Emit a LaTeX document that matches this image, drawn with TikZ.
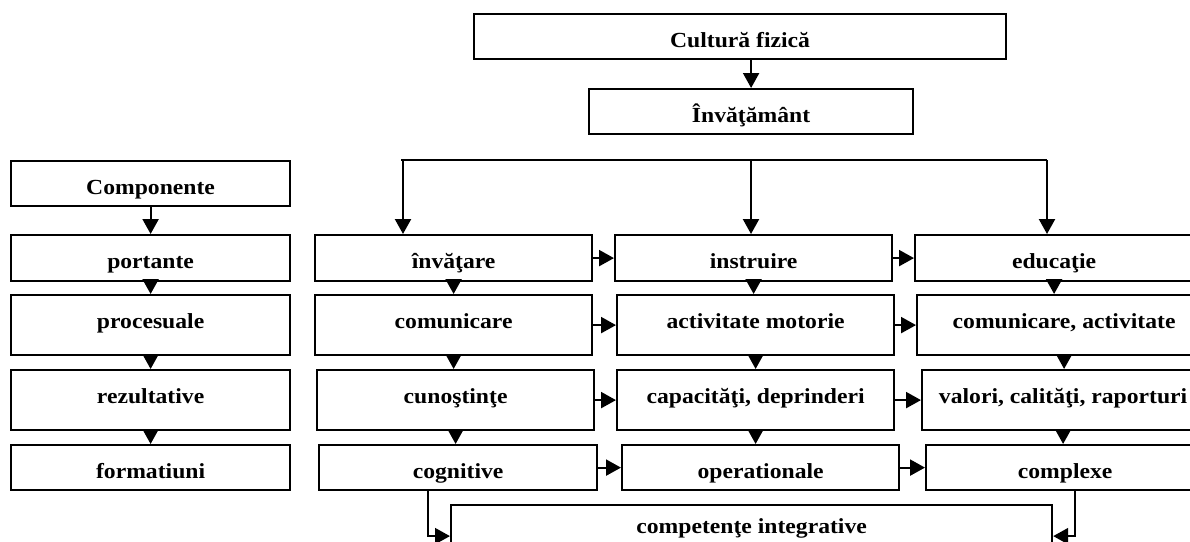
\documentclass[tikz,border=0pt]{standalone}
\usepackage{fontspec}
\setmainfont{Liberation Serif}[FakeStretch=1.1]
\usetikzlibrary{arrows.meta}
\tikzset{
  box/.style={draw, line width=2.2pt, anchor=north west, inner xsep=0pt, inner ysep=0pt,
    text height=33pt, text depth=12pt, font=\fontsize{21.5}{26}\selectfont\bfseries},
  tall/.style={text depth=27pt},
  arr/.style={line width=2.2pt, -{Triangle[width=16pt,length=15pt]}}
}
\begin{document}
\begin{tikzpicture}[x=1pt,y=-1pt]
\useasboundingbox (0,0) rectangle (1190,541);

\node[box, minimum width=532pt] (cf) at (473,13) {Cultură fizică};
\node[box, minimum width=324pt] (inv) at (588,88) {Învăţământ};
\draw[arr] (inv.north |- cf.south) -- (inv.north);

% left column
\node[box, minimum width=279pt] (comp) at (10,160) {Componente};
\node[box, minimum width=279pt, text depth=13pt] (l1) at (10,234) {portante};
\node[box, tall, minimum width=279pt] (l2) at (10,294) {procesuale};
\node[box, tall, minimum width=279pt] (l3) at (10,369) {rezultative};
\node[box, minimum width=279pt] (l4) at (10,444) {formatiuni};

% three columns
\node[box, minimum width=277pt, text depth=13pt] (a1) at (314,234) {învăţare};
\node[box, tall, minimum width=277pt] (a2) at (314,294) {comunicare};
\node[box, tall, minimum width=277pt] (a3) at (316,369) {cunoştinţe};
\node[box, minimum width=278pt] (a4) at (318,444) {cognitive};

\node[box, minimum width=277pt, text depth=13pt] (b1) at (614,234) {instruire};
\node[box, tall, minimum width=277pt] (b2) at (616,294) {activitate motorie};
\node[box, tall, minimum width=277pt] (b3) at (616,369) {capacităţi, deprinderi};
\node[box, minimum width=277pt] (b4) at (621,444) {operationale};

\node[box, minimum width=278pt, text depth=13pt] (c1) at (914,234) {educaţie};
\node[box, tall, minimum width=294pt] (c2) at (916,294) {comunicare, activitate};
\node[box, tall, minimum width=282pt] (c3) at (921,369) {valori, calităţi, raporturi};
\node[box, minimum width=278pt] (c4) at (925,444) {complexe};

\node[box, minimum width=601pt, text height=28pt, text depth=34pt] (ci) at (450,504) {competenţe integrative};

% fork from Invatamant
\coordinate (fl) at (401,160);
\coordinate (fa) at (403,160);
\coordinate (fb) at (751,160);
\coordinate (fr) at (1047,160);
\draw[line width=2.2pt] (fl) -- (fr);
\draw[arr] (fa) -- (fa |- a1.north);
\draw[arr] (fb) -- (fb |- b1.north);
\draw[arr] (fr) -- (fr |- c1.north);

\foreach \u/\v in {comp/l1,l1/l2,l2/l3,l3/l4,a1/a2,a2/a3,a3/a4,b1/b2,b2/b3,b3/b4,c1/c2,c2/c3,c3/c4}
\draw[arr] (\u.south) -- (\u.south |- \v.north);

\foreach \u/\v in {a1/b1,b1/c1,a2/b2,b2/c2,a3/b3,b3/c3,a4/b4,b4/c4}
\draw[arr] (\u.east) -- (\v.west);

\draw[arr] ([xshift=-30pt]a4.south) |- (ci.west);
\draw[arr] ([xshift=10pt]c4.south) |- (ci.east);
\end{tikzpicture}
\end{document}
